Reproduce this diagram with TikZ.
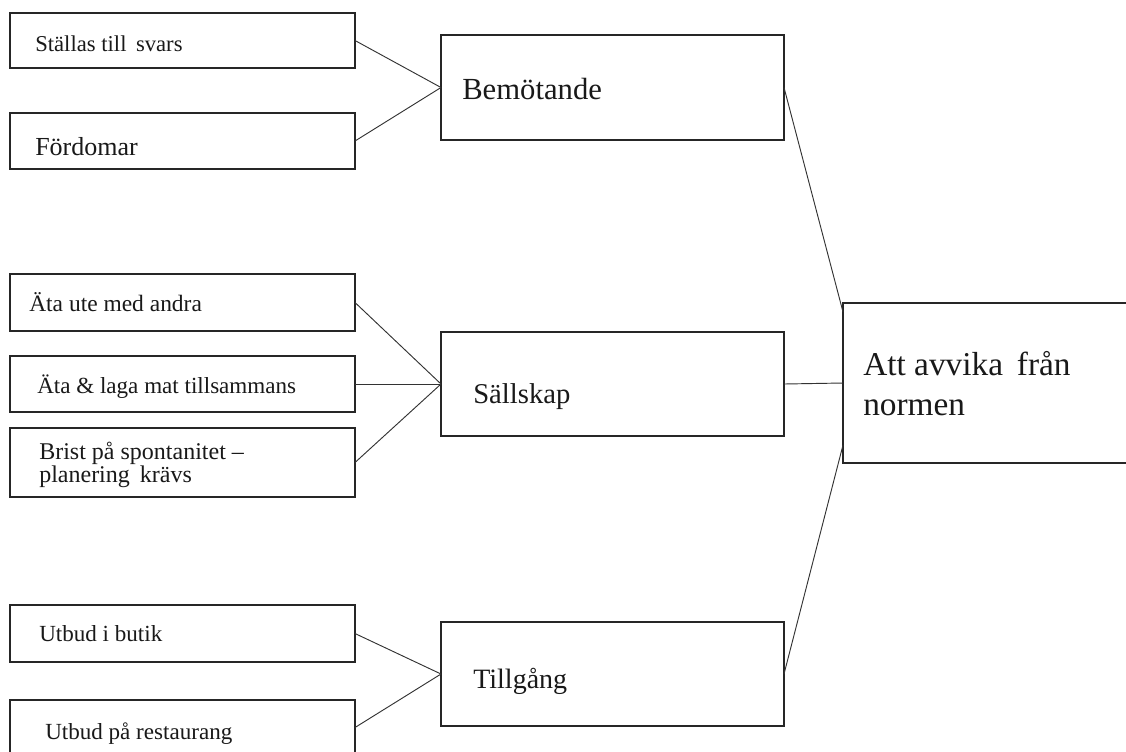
\documentclass[tikz,border=0pt]{standalone}
\usepackage{fontspec}
\setmainfont{Liberation Serif}
\usetikzlibrary{calc}
\begin{document}
\begin{tikzpicture}[x=0.75pt,y=-0.75pt,
  box/.style={draw=black!85,line width=0.8pt,fill=white,inner sep=0pt,outer sep=0pt,rectangle},
  leftbox/.style={box,minimum width=258.75pt},
  midbox/.style={box,minimum width=257.25pt,minimum height=78pt},
  conn/.style={draw=black!80,line width=0.7pt},
  lbl/.style={anchor=base west,inner sep=0pt,align=left,text=black!90}]
\useasboundingbox (0,0) rectangle (1126,751);
\clip (0,0) rectangle (1126,751);
% left boxes
\node[leftbox,minimum height=41.25pt] (s1) at (182.5,40.5) {};
\node[leftbox,minimum height=42pt]    (s2) at (182.5,141) {};
\node[leftbox,minimum height=42.75pt] (s3) at (182.5,302.5) {};
\node[leftbox,minimum height=42pt]    (s4) at (182.5,384) {};
\node[leftbox,minimum height=51.75pt] (s5) at (182.5,462.5) {};
\node[leftbox,minimum height=42.75pt] (s6) at (182.5,633.5) {};
\node[leftbox,minimum height=41.25pt] (s7) at (182.5,727.5) {};
% middle boxes
\node[midbox,minimum height=78.75pt] (mB) at (612.5,87.5) {};
\node[midbox] (mS) at (612.5,384) {};
\node[midbox] (mT) at (612.5,674) {};
% right box
\node[box,minimum width=216pt,minimum height=120pt] (R) at (987,383) {};
% texts
\node[lbl,font=\fontsize{17}{20}\selectfont] (t1) at (35,51) {Ställas till \,svars};
\node[lbl,font=\fontsize{19.5}{23}\selectfont] (t2) at (35,155) {Fördomar};
\node[lbl,font=\fontsize{17.6}{21}\selectfont] (t3) at (29,311) {Äta ute med andra};
\node[lbl,font=\fontsize{17.3}{21}\selectfont] (t4) at (37,393) {Äta \& laga mat tillsammans};
\node[lbl,font=\fontsize{18}{17.2}\selectfont] (t5) at (39,482) {Brist på spontanitet –\\planering \,krävs};
\node[lbl,font=\fontsize{17.3}{21}\selectfont] (t6) at (39,641) {Utbud i butik};
\node[lbl,font=\fontsize{17.3}{21}\selectfont] (t7) at (45,739) {Utbud på restaurang};
\node[lbl,font=\fontsize{23}{27}\selectfont] (tB) at (462,99) {Bemötande};
\node[lbl,font=\fontsize{21.5}{26}\selectfont] (tS) at (473,403) {Sällskap};
\node[lbl,font=\fontsize{21}{26}\selectfont] (tT) at (473,688) {Tillgång};
\node[lbl,font=\fontsize{25}{30}\selectfont] (tR) at (863,415) {Att avvika \,från\\normen};
% connectors
\draw[conn] (s1.east) -- (mB.west);
\draw[conn] (s2.east) -- (mB.west);
\draw[conn] (s3.east) -- (mS.west);
\draw[conn] (s4.east) -- (mS.west);
\draw[conn] (s5.east) -- (mS.west);
\draw[conn] (s6.east) -- (mT.west);
\draw[conn] (s7.east) -- (mT.west);
\draw[conn] (mB.east) -- ($(R.north west)+(0,9)$);
\draw[conn] (mS.east) -- (R.west);
\draw[conn] (mT.east) -- ($(R.south west)+(0,-18)$);
\end{tikzpicture}
\end{document}
